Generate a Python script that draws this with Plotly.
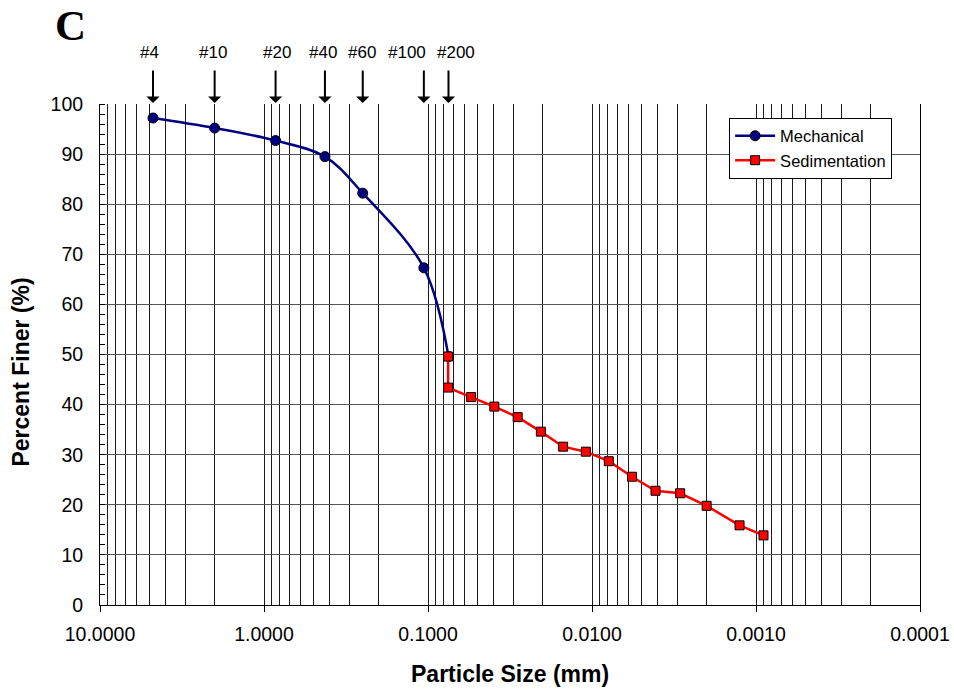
import numpy as np
import plotly.graph_objects as go

# ---- data ----
mech_size = [4.75, 2.0, 0.85, 0.425, 0.25, 0.106, 0.075]
mech_pct = [97.2, 95.2, 92.7, 89.5, 82.2, 67.3, 49.6]

sed_size = [0.0754, 0.0754, 0.0546, 0.0394, 0.0284, 0.0205, 0.0150, 0.0109,
            0.0079, 0.0057, 0.0041, 0.0029, 0.0020, 0.00126, 0.00090]
sed_pct = [49.6, 43.4, 41.5, 39.6, 37.5, 34.6, 31.6, 30.6,
           28.7, 25.6, 22.8, 22.3, 19.8, 15.9, 13.9]

sieve_labels = ["#4", "#10", "#20", "#40", "#60", "#100", "#200"]
sieve_size = [4.75, 2.0, 0.85, 0.425, 0.25, 0.106, 0.075]
# horizontal nudge (px) of each sieve label relative to its arrow
sieve_label_shift = [-4, -2, 1, -1.5, -0.5, -17, 7.5]

x_tickvals = [10, 1, 0.1, 0.01, 0.001, 0.0001]
x_ticktext = ["10.0000", "1.0000", "0.1000", "0.0100", "0.0010", "0.0001"]
y_tickvals = list(range(0, 101, 10))

FONT = "Liberation Sans, Arial, sans-serif"

minor_vals = [m * 10.0 ** e for e in range(-4, 1) for m in range(2, 10)]

fig = go.Figure()
fig.add_trace(go.Scatter(
    x=mech_size, y=mech_pct, name="Mechanical", mode="lines+markers",
    line=dict(color="#000080", width=2.5, shape="spline", smoothing=1.0),
    marker=dict(symbol="circle", size=10, color="#000080",
                line=dict(color="#000000", width=1)),
))
fig.add_trace(go.Scatter(
    x=sed_size, y=sed_pct, name="Sedimentation", mode="lines+markers",
    line=dict(color="#ff0000", width=2.5),
    marker=dict(symbol="square", size=9, color="#ff0000",
                line=dict(color="#000000", width=1)),
))

annotations = []
for lab, s, sh in zip(sieve_labels, sieve_size, sieve_label_shift):
    # arrow
    annotations.append(dict(
        x=np.log10(s), y=100, xref="x", yref="y", text="",
        showarrow=True, ax=0, ay=-35, arrowhead=1, arrowsize=1.1,
        arrowwidth=2, arrowcolor="black", standoff=1,
    ))
    # label
    annotations.append(dict(
        x=np.log10(s), y=100, xref="x", yref="y", text=lab,
        showarrow=False, xshift=sh, yshift=52, yanchor="middle",
        xanchor="center",
        font=dict(family=FONT, size=17, color="black"),
    ))

annotations.append(dict(
    x=0.5, y=-0.1377, xref="paper", yref="paper", text="<b>Particle Size (mm)</b>",
    showarrow=False, xanchor="center", yanchor="middle",
    font=dict(family=FONT, size=23, color="black"),
))
annotations.append(dict(
    x=-0.0957, y=0.465, xref="paper", yref="paper", text="<b>Percent Finer (%)</b>",
    showarrow=False, xanchor="center", yanchor="middle", textangle=-90,
    font=dict(family=FONT, size=23, color="black"),
))
annotations.append(dict(
    x=-0.057, y=1.157, xref="paper", yref="paper", text="<b>C</b>",
    showarrow=False, xanchor="left", yanchor="middle",
    font=dict(family="Liberation Serif, serif", size=43, color="black"),
))

fig.update_layout(
    width=954, height=694,
    margin=dict(l=100, r=34, t=104, b=89, autoexpand=False),
    paper_bgcolor="white", plot_bgcolor="white",
    font=dict(family=FONT, size=19, color="black"),
    showlegend=True,
    legend=dict(
        x=0.966, y=0.973, xanchor="right", yanchor="top",
        bgcolor="white", bordercolor="black", borderwidth=1,
        font=dict(family=FONT, size=16.5, color="black"),
        itemwidth=40,
    ),
    annotations=annotations,
)

fig.update_xaxes(
    type="log", range=[1, -4], automargin=False,
    tickmode="array", tickvals=x_tickvals, ticktext=x_ticktext,
    ticks="outside", ticklen=6, tickcolor="black", tickwidth=1,
    showgrid=True, gridcolor="#1a1a1a", gridwidth=1,
    showline=True, linecolor="black", linewidth=1,
    zeroline=False,
    minor=dict(tickmode="array", tickvals=minor_vals, showgrid=True,
               gridcolor="#1a1a1a", gridwidth=1, ticks=""),
    ticklabelstandoff=6,
    tickfont=dict(family=FONT, size=19.5, color="black"),
)
fig.update_yaxes(
    range=[0, 100], tickmode="array", tickvals=y_tickvals, automargin=False,
    ticks="", showgrid=True, gridcolor="#555555", gridwidth=1,
    showline=True, linecolor="black", linewidth=1, mirror=True,
    zeroline=False,
    minor=dict(dtick=2, ticks="inside", ticklen=5, tickcolor="black",
               showgrid=False),
    ticklabelstandoff=12,
    tickfont=dict(family=FONT, size=19.5, color="black"),
)

fig.write_html(
    "out.html",
    config={"displayModeBar": False},
    post_script="document.body.style.margin='0';document.body.style.padding='0';",
)
